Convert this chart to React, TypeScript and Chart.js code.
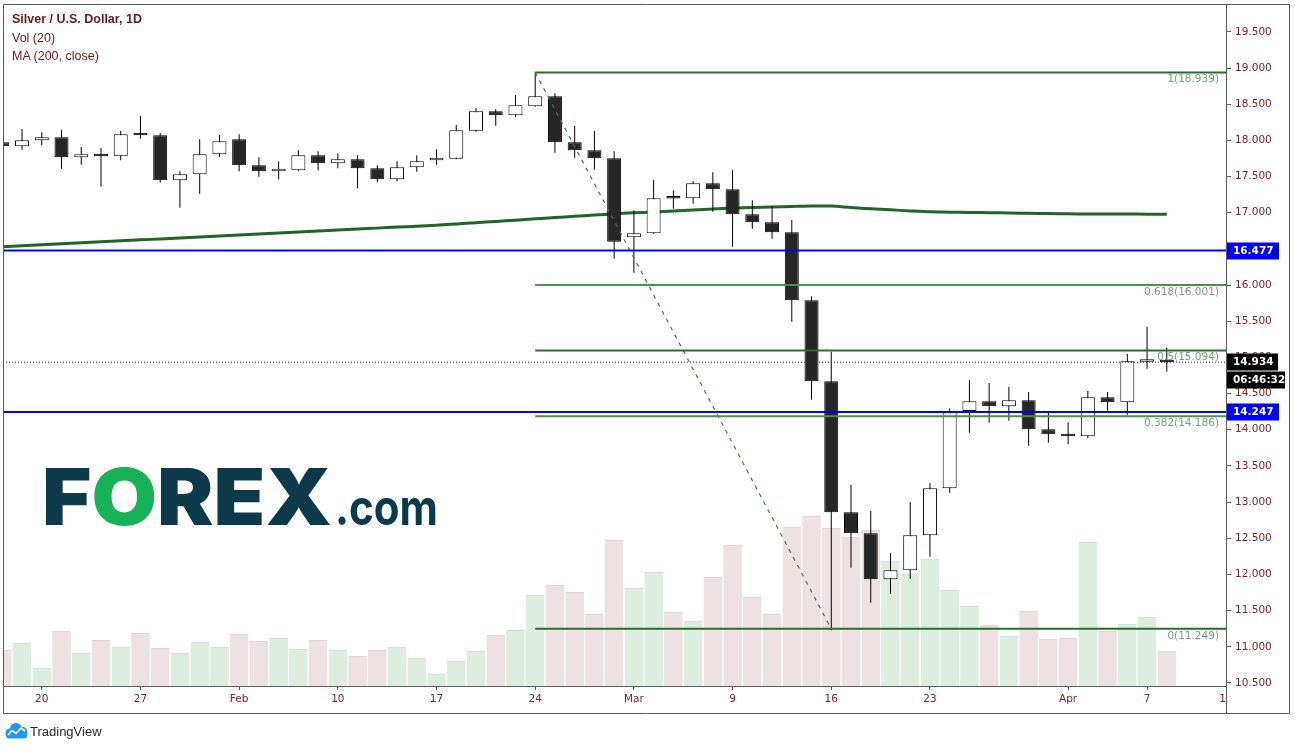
import React, { useEffect, useRef } from 'react';
import { Chart, registerables } from 'chart.js';

Chart.register(...registerables);

// ---- data (XAG/USD daily, 16 Jan 2020 - 8 Apr 2020) ----
const dates = [
  '2020-01-16', '2020-01-17', '2020-01-20', '2020-01-21', '2020-01-22', '2020-01-23', '2020-01-24',
  '2020-01-27', '2020-01-28', '2020-01-29', '2020-01-30', '2020-01-31',
  '2020-02-03', '2020-02-04', '2020-02-05', '2020-02-06', '2020-02-07',
  '2020-02-10', '2020-02-11', '2020-02-12', '2020-02-13', '2020-02-14',
  '2020-02-17', '2020-02-18', '2020-02-19', '2020-02-20', '2020-02-21',
  '2020-02-24', '2020-02-25', '2020-02-26', '2020-02-27', '2020-02-28',
  '2020-03-02', '2020-03-03', '2020-03-04', '2020-03-05', '2020-03-06',
  '2020-03-09', '2020-03-10', '2020-03-11', '2020-03-12', '2020-03-13',
  '2020-03-16', '2020-03-17', '2020-03-18', '2020-03-19', '2020-03-20',
  '2020-03-23', '2020-03-24', '2020-03-25', '2020-03-26', '2020-03-27',
  '2020-03-30', '2020-03-31', '2020-04-01', '2020-04-02', '2020-04-03',
  '2020-04-06', '2020-04-07', '2020-04-08',
];

const open = [
  17.973, 17.918, 18.001, 18.042, 17.766, 17.807, 17.780, 18.084, 18.070, 17.448,
  17.531, 17.807, 18.015, 17.655, 17.572, 17.586, 17.793, 17.683, 17.738, 17.614,
  17.462, 17.628, 17.724, 17.746, 18.133, 18.402, 18.346, 18.471, 18.609, 17.973,
  17.862, 17.752, 16.660, 16.715, 17.205, 17.199, 17.406, 17.323, 16.978, 16.867,
  16.729, 15.789, 14.670, 12.859, 12.569, 11.933, 12.058, 12.541, 13.191, 14.259,
  14.393, 14.324, 14.407, 14.006, 13.937, 13.910, 14.449, 14.380, 14.940, 14.950,
];
const high = [
  18.000, 18.157, 18.111, 18.143, 17.908, 17.894, 18.129, 18.337, 18.102, 17.572,
  18.015, 18.070, 18.084, 17.766, 17.710, 17.862, 17.849, 17.821, 17.793, 17.655,
  17.710, 17.793, 17.876, 18.212, 18.447, 18.429, 18.627, 18.939, 18.650, 18.198,
  18.129, 17.849, 17.033, 17.452, 17.310, 17.434, 17.558, 17.590, 17.171, 17.093,
  16.899, 15.844, 15.079, 13.236, 12.877, 12.297, 13.001, 13.264, 14.296, 14.688,
  14.646, 14.591, 14.522, 14.241, 14.103, 14.536, 14.522, 15.047, 15.424, 15.134,
];
const low = [
  17.880, 17.871, 17.932, 17.608, 17.663, 17.359, 17.724, 18.023, 17.415, 17.069,
  17.263, 17.766, 17.572, 17.498, 17.462, 17.572, 17.586, 17.614, 17.337, 17.420,
  17.434, 17.567, 17.663, 17.740, 18.120, 18.203, 18.327, 18.465, 17.829, 17.760,
  17.594, 16.364, 16.171, 16.710, 17.055, 17.124, 17.014, 16.530, 16.779, 16.641,
  15.493, 14.415, 11.230, 12.092, 11.608, 11.734, 11.942, 12.245, 13.130, 13.960,
  14.098, 14.125, 13.780, 13.821, 13.799, 13.882, 14.263, 14.208, 14.844, 14.802,
];
const close = [
  17.918, 18.001, 18.042, 17.766, 17.807, 17.780, 18.084, 18.070, 17.448, 17.531,
  17.807, 17.987, 17.655, 17.572, 17.586, 17.793, 17.683, 17.738, 17.614, 17.462,
  17.628, 17.710, 17.752, 18.139, 18.402, 18.346, 18.484, 18.609, 17.973, 17.862,
  17.752, 16.599, 16.715, 17.199, 17.195, 17.406, 17.323, 16.978, 16.867, 16.729,
  15.789, 14.670, 12.859, 12.569, 11.933, 12.058, 12.541, 13.191, 14.241, 14.393,
  14.324, 14.407, 14.006, 13.937, 13.910, 14.449, 14.380, 14.946, 14.950, 14.934,
];
const volume = [
  36, 43, 18, 55, 33, 46, 39, 53, 38, 33,
  44, 39, 52, 45, 48, 37, 46, 36, 30, 36,
  39, 28, 12, 25, 35, 51, 56, 91, 101, 94,
  72, 146, 98, 114, 74, 65, 109, 141, 89, 72,
  159, 170, 158, 149, 156, 125, 112, 127, 96, 80,
  61, 50, 75, 47, 48, 144, 55, 62, 69, 35,
];
const ma200 = [
  16.530, 16.543, 16.557, 16.570, 16.584, 16.597, 16.611, 16.625, 16.638, 16.652,
  16.665, 16.679, 16.692, 16.706, 16.719, 16.733, 16.747, 16.760, 16.774, 16.787,
  16.801, 16.814, 16.828, 16.845, 16.862, 16.880, 16.897, 16.915, 16.933, 16.950,
  16.968, 16.985, 16.998, 17.011, 17.025, 17.038, 17.051, 17.064, 17.072, 17.079,
  17.086, 17.093, 17.092, 17.072, 17.055, 17.040, 17.025, 17.012, 17.008, 17.004,
  17.000, 16.996, 16.992, 16.988, 16.985, 16.983, 16.982, 16.981, 16.980, 16.978,
];

const horizontalLevels = [16.477, 14.247];
const fibRatios = [1, 0.618, 0.5, 0.382, 0];
const fibPrices = [18.939, 16.001, 15.094, 14.186, 11.249];
const fibStartIndex = 27;
const trendStart = { index: 27, price: 18.939 };
const trendEnd = { index: 42, price: 11.249 };
const lastPrice = 14.934;
const countdownText = '06:46:32';

const priceTicks = [10.5, 11, 11.5, 12, 12.5, 13, 13.5, 14, 14.5, 15, 15.5, 16, 16.5, 17, 17.5, 18, 18.5, 19, 19.5];
const xTickIndex = [2, 7, 12, 17, 22, 27, 32, 37, 42, 47, 54, 58, 62];
const xTickLabels = ['20', '27', 'Feb', '10', '17', '24', 'Mar', '9', '16', '23', 'Apr', '7', '13'];

const X_MIN = 0.035;
const X_MAX = 62;
const Y_MIN = 10.458;
const Y_MAX = 19.885;
const VOL_MAX = 682;

const AXIS_TEXT = '#7b2323';
const FRAME = '#5a5a5a';
const AXIS_FONT = { family: '"DejaVu Sans", Verdana, sans-serif', size: 10.5 };

export default function App() {
  const canvasRef = useRef<HTMLCanvasElement>(null);

  useEffect(() => {
    const canvas = canvasRef.current;
    if (!canvas) return;
    const idx = dates.map((_, i) => i);
    const isUp = idx.map((i) => close[i] >= open[i]);

    const hLine = (y: number, color: string, width: number, dash: number[] = [], x0 = X_MIN, x1 = X_MAX) => ({
      type: 'line' as const,
      data: [{ x: x0, y }, { x: x1, y }],
      borderColor: color,
      borderWidth: width,
      borderDash: dash,
      pointRadius: 0,
      order: 0,
      yAxisID: 'y',
      xAxisID: 'x',
    });

    const fibColors = ['#2c6a2f', '#4f8d53', '#2c6a2f', '#4f8d53', '#2c6a2f'];

    const datasets: any[] = [
      {
        type: 'bar',
        label: 'Vol',
        data: idx.map((i) => ({ x: i, y: volume[i] })),
        yAxisID: 'vol',
        xAxisID: 'x',
        backgroundColor: idx.map((i) => (isUp[i] ? '#ddede0' : '#eee1e2')),
        borderColor: idx.map((i) => (isUp[i] ? '#cfe4d3' : '#e5d2d4')),
        borderWidth: { top: 1, left: 0, right: 0, bottom: 0 },
        borderSkipped: false,
        barThickness: 18.7,
        grouped: false,
        inflateAmount: 0,
        order: 10,
      },
      {
        type: 'line',
        label: 'MA (200, close)',
        data: idx.map((i) => ({ x: i, y: ma200[i] })),
        borderColor: '#23642a',
        borderWidth: 3,
        pointRadius: 0,
        tension: 0.3,
        yAxisID: 'y',
        xAxisID: 'x',
        order: 5,
      },
      {
        type: 'bar',
        label: 'wicks',
        data: idx.map((i) => ({ x: i, y: [low[i], high[i]] })),
        backgroundColor: '#000000',
        barThickness: 1,
        grouped: false,
        inflateAmount: 0,
        yAxisID: 'y',
        xAxisID: 'x',
        order: 2,
      },
      {
        type: 'bar',
        label: 'bodies',
        data: idx.map((i) => ({ x: i, y: [open[i], close[i]] })),
        backgroundColor: idx.map((i) => (isUp[i] ? '#ffffff' : '#262626')),
        borderColor: '#000000',
        borderWidth: 1,
        borderSkipped: false,
        barThickness: 14,
        minBarLength: 2.5,
        grouped: false,
        inflateAmount: 0,
        yAxisID: 'y',
        xAxisID: 'x',
        order: 1,
      },
      hLine(lastPrice, '#222222', 1, [1, 2]),
      ...horizontalLevels.map((v) => hLine(v, '#0000ff', 2)),
      ...fibPrices.map((p, k) => hLine(p, fibColors[k], 2, [], fibStartIndex, X_MAX)),
      {
        type: 'line',
        label: 'trend',
        data: [
          { x: trendStart.index, y: trendStart.price },
          { x: trendEnd.index, y: trendEnd.price },
        ],
        borderColor: '#3a7d3e',
        borderWidth: 1.2,
        borderDash: [4, 5],
        pointRadius: 0,
        yAxisID: 'y',
        xAxisID: 'x',
        order: 0,
      },
    ];

    const overlay = {
      id: 'tvOverlay',
      afterDatasetsDraw(chart: any) {
        const { ctx, chartArea } = chart;
        const y = chart.scales.y;
        ctx.save();
        ctx.font = '10.5px "DejaVu Sans", Verdana, sans-serif';
        ctx.fillStyle = '#76a07a';
        ctx.textAlign = 'right';
        ctx.textBaseline = 'middle';
        fibRatios.forEach((r, k) => {
          ctx.fillText(`${r}(${fibPrices[k].toFixed(3)})`, chartArea.right - 7, y.getPixelForValue(fibPrices[k]) + 7);
        });
        ctx.restore();
      },
      afterDraw(chart: any) {
        const { ctx, chartArea } = chart;
        const y = chart.scales.y;
        const right = chartArea.right;
        const outerRight = right + 63;
        const axisBottom = chartArea.bottom + 27;
        ctx.save();
        // hide overflow of last date label into the corner cell
        ctx.fillStyle = '#ffffff';
        ctx.fillRect(right + 1, chartArea.bottom + 1, 70, 26);
        // frame
        ctx.strokeStyle = FRAME;
        ctx.lineWidth = 1;
        ctx.beginPath();
        ctx.rect(chartArea.left + 0.5, chartArea.top + 0.5, outerRight - chartArea.left, axisBottom - chartArea.top);
        ctx.moveTo(right + 0.5, chartArea.bottom);
        ctx.lineTo(right + 0.5, axisBottom);
        ctx.stroke();
        // price boxes on the axis
        const box = (value: number, text: string, bg: string, w: number, dy = 0) => {
          const py = Math.round(y.getPixelForValue(value)) + dy;
          ctx.fillStyle = bg;
          ctx.fillRect(right + 1, py - 8.5, w, 17);
          ctx.fillStyle = '#ffffff';
          ctx.font = 'bold 10.5px "DejaVu Sans", Verdana, sans-serif';
          ctx.textAlign = 'left';
          ctx.textBaseline = 'middle';
          ctx.fillText(text, right + 7, py + 0.5);
        };
        horizontalLevels.forEach((v) => box(v, v.toFixed(3), '#0000ff', 52));
        box(lastPrice, lastPrice.toFixed(3), '#000000', 51);
        box(lastPrice, countdownText, '#000000', 58, 18);
        ctx.restore();
      },
    };

    const chart = new Chart(canvas, {
      type: 'bar',
      data: { datasets },
      options: {
        responsive: false,
        animation: false,
        devicePixelRatio: 1,
        events: [],
        layout: { padding: { left: 3, top: 4, right: 6, bottom: 37 } },
        plugins: { legend: { display: false }, tooltip: { enabled: false }, title: { display: false } },
        scales: {
          x: {
            type: 'linear',
            min: X_MIN,
            max: X_MAX,
            offset: false,
            grid: { display: true, drawOnChartArea: false, drawTicks: true, tickLength: 4, tickColor: FRAME, offset: false },
            border: { display: true, color: FRAME, width: 1 },
            ticks: {
              autoSkip: false,
              maxRotation: 0,
              minRotation: 0,
              padding: 3,
              color: AXIS_TEXT,
              font: AXIS_FONT,
              callback: (v: any) => {
                const k = xTickIndex.indexOf(Number(v));
                return k >= 0 ? xTickLabels[k] : '';
              },
            },
            afterBuildTicks: (s: any) => {
              s.ticks = xTickIndex.map((v) => ({ value: v }));
            },
            afterFit: (s: any) => {
              s.height = 27;
              s.paddingLeft = 0;
              s.paddingRight = 0;
              s.paddingTop = 0;
              s.paddingBottom = 0;
            },
          },
          y: {
            type: 'linear',
            position: 'right',
            min: Y_MIN,
            max: Y_MAX,
            grid: { display: true, drawOnChartArea: false, drawTicks: true, tickLength: 5, tickColor: FRAME },
            border: { display: true, color: FRAME, width: 1 },
            ticks: {
              padding: 4,
              color: AXIS_TEXT,
              font: AXIS_FONT,
              callback: (v: any) => Number(v).toFixed(3),
            },
            afterBuildTicks: (s: any) => {
              s.ticks = priceTicks.map((v) => ({ value: v }));
            },
            afterFit: (s: any) => {
              s.width = 63;
              s.paddingTop = 0;
              s.paddingBottom = 0;
              s.paddingLeft = 0;
              s.paddingRight = 0;
            },
          },
          vol: {
            type: 'linear',
            axis: 'y',
            position: 'left',
            display: false,
            min: 0,
            max: VOL_MAX,
          },
        },
      } as any,
      plugins: [overlay],
    });
    return () => chart.destroy();
  }, []);

  return (
    <div style={{ position: 'absolute', left: 0, top: 0, width: 1295, height: 750, background: '#ffffff', overflow: 'hidden' }}>
      <canvas ref={canvasRef} width={1295} height={750} style={{ display: 'block', width: 1295, height: 750 }} />
      <svg
        width={1295}
        height={750}
        style={{ position: 'absolute', left: 0, top: 0, pointerEvents: 'none' }}
      >
        <g fontFamily='"Liberation Sans", Arial, sans-serif' fontSize={12.5} fill="#6e1616">
          <text x={12} y={23} fontWeight="bold">Silver / U.S. Dollar, 1D</text>
          <text x={12} y={42}>Vol (20)</text>
          <text x={12} y={60}>MA (200, close)</text>
        </g>
        <text x={42} y={525} fontFamily="Inter, 'DejaVu Sans', sans-serif" fontWeight={900} fontSize={79} textLength={290} lengthAdjust="spacingAndGlyphs">
          <tspan fill="#0c3a4a">F</tspan>
          <tspan fill="#17b257">O</tspan>
          <tspan fill="#0c3a4a">REX</tspan>
        </text>
        <text x={335} y={525} fontFamily="Inter, 'DejaVu Sans', sans-serif" fontWeight={700} fontSize={50} textLength={103} lengthAdjust="spacingAndGlyphs" fill="#0c3a4a">.com</text>
        <g>
          <circle cx={16} cy={729} r={6} fill="#2196f3" />
          <circle cx={10} cy={733} r={4.5} fill="#2196f3" />
          <circle cx={22.5} cy={732} r={5} fill="#2196f3" />
          <rect x={6} y={732} width={21} height={6.5} rx={3} fill="#2196f3" />
          <polyline points="8,735 12,730.5 16,733.5 21,728 25,731" fill="none" stroke="#ffffff" strokeWidth={1.6} />
        </g>
        <text x={30} y={736} fontFamily='"Liberation Sans", Arial, sans-serif' fontSize={13} fill="#2a2a2a">TradingView</text>
      </svg>
    </div>
  );
}
